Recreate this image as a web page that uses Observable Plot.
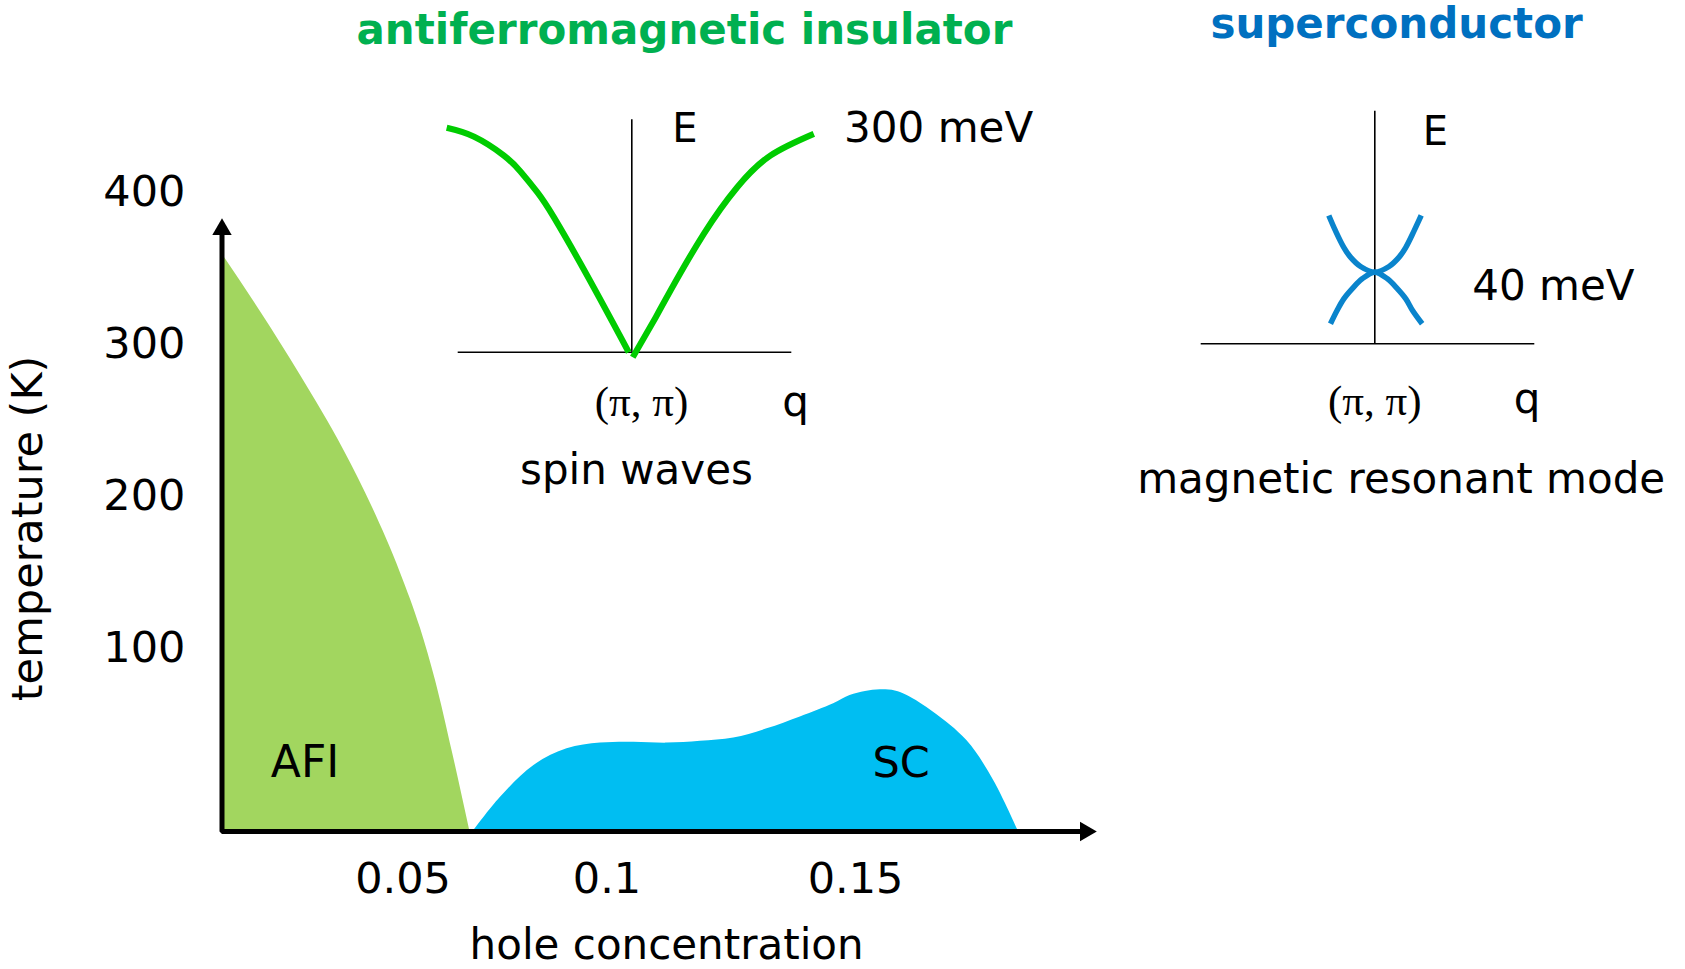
<!DOCTYPE html>
<html>
<head>
<meta charset="utf-8">
<script src="https://cdn.jsdelivr.net/npm/d3@7"></script>
<script src="https://cdn.jsdelivr.net/npm/@observablehq/plot@0.6"></script>
<style>
  html, body { margin: 0; padding: 0; background: #fff; }
  #wrap { position: relative; width: 1685px; height: 969px; overflow: hidden; background: #fff; }
  #wrap svg { position: absolute; left: 0; top: 0; }
</style>
</head>
<body>
<div id="wrap"></div>
<script>
// ================= DATA =================
// Phase diagram: hole concentration (x) vs temperature (K)
const xTicks = [0.05, 0.1, 0.15];
const xTickLabels = ["0.05", "0.1", "0.15"];
const yTicks = [100, 200, 300, 400];

// antiferromagnetic insulator (AFI) boundary
const afiX = [0, 0.0106, 0.0217, 0.0337, 0.0417, 0.0493, 0.0543, 0.0580, 0.0621, 0.0664];
const afiT = [359.5, 321.6, 279.5, 230.2, 192.0, 149.7, 113.1, 82.2, 43.5, 0];

// superconducting (SC) dome
const scX = [0.0672, 0.0739, 0.0821, 0.0902, 0.0984, 0.1054, 0.1121, 0.1188, 0.1255, 0.1322, 0.1389,
             0.1456, 0.1489, 0.152, 0.155, 0.158, 0.1604, 0.1657, 0.1724, 0.1778, 0.1828];
const scT = [0, 18.7, 36.1, 45.2, 48.3, 48.8, 48.3, 49.3, 51.1, 56.1, 62.6,
             69.8, 74.3, 76.5, 77.4, 76.8, 74.3, 65.2, 49.7, 27.9, 0];

// axis extents of the phase diagram (arrow ends)
const axisXEnd = 0.1963;
const axisTEnd = 375.5;

// Spin waves (antiferromagnetic insulator): q relative to (pi,pi), E in meV
const spinLeftQ  = [-1.157, -0.985, -0.8, -0.696, -0.591, -0.4875, -0.279, -0.019];
const spinLeftE  = [303.6, 291.5, 266.2, 244.5, 216.5, 182.7, 103.8, 0];
const spinRightQ = [0.006, 0.15, 0.242, 0.45, 0.659, 0.867, 1.1375];
const spinRightE = [-6.8, 47.4, 83.5, 160.2, 223.3, 266.2, 295.5];

// Magnetic resonant mode (superconductor): q relative to (pi,pi), E in meV
const resUpperQ = [-0.2875, -0.246, -0.194, -0.152, -0.089, 0, 0.089, 0.152, 0.194, 0.246, 0.29];
const resUpperE = [71.7, 63.2, 53.9, 48.4, 43.2, 40, 43.2, 48.4, 53.9, 63.2, 71.7];
const resLowerQ = [-0.277, -0.236, -0.194, -0.142, -0.079, 0, 0.079, 0.142, 0.194, 0.236, 0.296];
const resLowerE = [11.2, 18.6, 25.1, 30.7, 36.3, 40, 36.3, 30.7, 25.1, 18.6, 11.2];

// inset axis extents
const insetQMin = -1.085, insetQMax = 1.0;
const spinEMax = 314.5;
const resEMax = 129.9;

// ================= BUILD =================
const afi = afiX.map((x, i) => ({x, T: afiT[i]}));
const sc = scX.map((x, i) => ({x, T: scT[i]}));
const axisPath = [{x: 0, T: axisTEnd}, {x: 0, T: 0}, {x: axisXEnd, T: 0}];
const arrowHeads = [{x: 0, T: axisTEnd, rot: 0}, {x: axisXEnd, T: 0, rot: 90}];

const spin = [
  ...spinLeftQ.map((q, i) => ({q, E: spinLeftE[i], arm: "left"})),
  ...spinRightQ.map((q, i) => ({q, E: spinRightE[i], arm: "right"}))
];
const res = [
  ...resUpperQ.map((q, i) => ({q, E: resUpperE[i], arm: "upper"})),
  ...resLowerQ.map((q, i) => ({q, E: resLowerE[i], arm: "lower"}))
];

const FONT = "DejaVu Sans, Verdana, sans-serif";
const SERIF = "Liberation Serif, Times New Roman, serif";
const baseStyle = {background: "none", fontFamily: FONT, overflow: "visible"};

const label = (t, x, y, opts = {}) =>
  Plot.text([t], {x: () => x, y: () => y, text: d => d, lineAnchor: "bottom", fontSize: 42, fill: "black", ...opts});

const main = Plot.plot({
  width: 1685, height: 969, margin: 0,
  style: baseStyle,
  x: {type: "linear", domain: [0, 0.05, 0.1, 0.15], range: [221.5, 402.5, 606.5, 855], axis: null},
  y: {type: "linear", domain: [0, 100, 400], range: [831, 648, 191.7], axis: null},
  marks: [
    Plot.areaY(afi, {x: "x", y: "T", fill: "#A2D65F", curve: "monotone-x"}),
    Plot.areaY(sc, {x: "x", y: "T", fill: "#00BEF2", curve: "catmull-rom"}),
    Plot.line(axisPath, {x: "x", y: "T", stroke: "black", strokeWidth: 5, strokeLinejoin: "miter", strokeLinecap: "butt"}),
    Plot.dot(arrowHeads, {x: "x", y: "T", rotate: "rot", symbol: "triangle", r: 7.2, fill: "black", stroke: "none"}),
    Plot.text(yTicks, {x: () => -0.0101, y: d => d, text: d => String(d), textAnchor: "end", lineAnchor: "middle", fontSize: 43, fill: "black"}),
    Plot.text(xTicks, {x: d => d, y: () => -26.3, text: (d, i) => xTickLabels[i], textAnchor: "middle", lineAnchor: "middle", fontSize: 43, fill: "black"}),
    label("hole concentration", 0.112, -69.9, {textAnchor: "middle"}),
    label("temperature (K)", -0.0534, 178.9, {textAnchor: "middle", lineAnchor: "middle", rotate: -90, fontSize: 43}),
    label("AFI", 0.0135, 30.05, {textAnchor: "start", fontSize: 44}),
    label("SC", 0.1534, 30.05, {textAnchor: "start", fontSize: 43})
  ]
});

const spinPlot = Plot.plot({
  width: 1685, height: 969, margin: 0,
  style: baseStyle,
  x: {domain: [-1, 1], range: [471.3, 791.3], axis: null},
  y: {domain: [0, 300], range: [351.7, 130], axis: null},
  marks: [
    Plot.ruleY([0], {x1: insetQMin, x2: insetQMax, stroke: "black", strokeWidth: 1.6}),
    Plot.ruleX([0], {y1: 0, y2: spinEMax, stroke: "black", strokeWidth: 1.6}),
    Plot.line(spin, {x: "q", y: "E", z: "arm", stroke: "#00CC00", strokeWidth: 6.2, curve: "natural", strokeLinecap: "butt"}),
    label("antiferromagnetic insulator", 0.329, 417.3, {textAnchor: "middle", fontWeight: "bold", fill: "#00B050"}),
    label("E", 0.2525, 284.2, {textAnchor: "start", fontSize: 40}),
    label("300 meV", 1.327, 284, {textAnchor: "start"}),
    label("(π, π)", 0.0606, -87, {textAnchor: "middle", fontFamily: SERIF, fontSize: 43}),
    label("q", 0.94, -85.7, {textAnchor: "start"}),
    label("spin waves", 0.029, -177.7, {textAnchor: "middle"})
  ]
});

const resPlot = Plot.plot({
  width: 1685, height: 969, margin: 0,
  style: baseStyle,
  x: {domain: [-1, 1], range: [1214.3, 1534.3], axis: null},
  y: {domain: [0, 40], range: [343.3, 271.7], axis: null},
  marks: [
    Plot.ruleY([0], {x1: insetQMin, x2: insetQMax, stroke: "black", strokeWidth: 1.6}),
    Plot.ruleX([0], {y1: 0, y2: resEMax, stroke: "black", strokeWidth: 1.6}),
    Plot.line(res, {x: "q", y: "E", z: "arm", stroke: "#0A84CC", strokeWidth: 5.5, curve: "catmull-rom", strokeLinecap: "butt"}),
    label("superconductor", 0.136, 170.8, {textAnchor: "middle", fontWeight: "bold", fill: "#0070C0"}),
    label("E", 0.3, 110.8, {textAnchor: "start", fontSize: 40}),
    label("40 meV", 0.609, 24.2, {textAnchor: "start"}),
    label("(π, π)", 0, -39.5, {textAnchor: "middle", fontFamily: SERIF, fontSize: 43}),
    label("q", 0.869, -38.4, {textAnchor: "start"}),
    label("magnetic resonant mode", 0.165, -83.1, {textAnchor: "middle"})
  ]
});

const wrap = document.getElementById("wrap");
wrap.appendChild(main);
wrap.appendChild(spinPlot);
wrap.appendChild(resPlot);
</script>
</body>
</html>
